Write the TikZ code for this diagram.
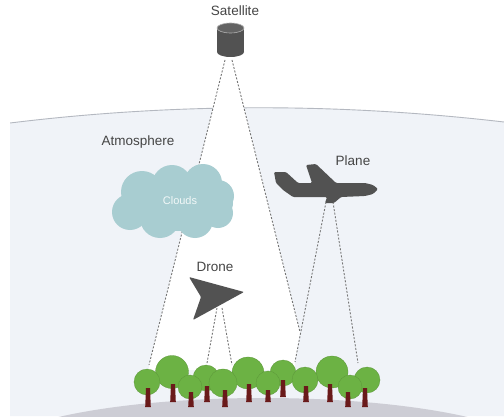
\documentclass[tikz,border=0pt]{standalone}
\usepackage{fontspec}
\newfontfamily\labfont{Liberation Sans}
\begin{document}
\definecolor{atmo}{HTML}{F0F3F8}
\definecolor{atmoedge}{HTML}{B4B8C0}
\definecolor{cloudc}{HTML}{A8CDD1}
\definecolor{groundc}{HTML}{CDCDD5}
\definecolor{leaf}{HTML}{6CB244}
\definecolor{trunkc}{HTML}{6A1A1A}
\definecolor{craft}{HTML}{525252}
\definecolor{labc}{HTML}{454545}
\definecolor{beamc}{HTML}{777777}
\begin{tikzpicture}[x=1pt,y=-1pt,
  lab/.style={font=\labfont\fontsize{13.5}{15}\selectfont,text=labc,inner sep=0pt},
  beam/.style={draw=beamc,line width=0.9pt,dash pattern=on 2pt off 1.6pt},
  foliage/.style={fill=leaf,draw=leaf!85!black,line width=0.3pt},
  trunkbar/.style={fill=trunkc},
  craftshape/.style={fill=craft,draw=none}]
\useasboundingbox (0,0) rectangle (504,420);
\fill[white] (0,0) rectangle (504,420);

% sky dome of the atmosphere
\begin{scope}
\clip (10,0) rectangle (504,416);
\fill[atmo] (10,123) .. controls (173,103) and (338,102.7) .. (504,122)
  -- (504,416) -- (10,416) -- cycle;
\draw[atmoedge,line width=0.9pt] (10,123) .. controls (173,103) and (338,102.7) .. (504,122);
% ground
\fill[groundc] (263,458) ellipse [x radius=280, y radius=60];
\end{scope}

% beam end points
\coordinate (satL) at (225,60);
\coordinate (satR) at (232,60);
\coordinate (satLg) at (149,365);
\coordinate (meet) at (300,332);
\coordinate (plL) at (326,202);
\coordinate (plR) at (333,202);
\coordinate (plLg) at (295,362);
\coordinate (plRg) at (358,363);
\coordinate (drL) at (217,308);
\coordinate (drR) at (222,308);
\coordinate (drLg) at (207,363);
\coordinate (drRg) at (232,365);

% clear cone under the satellite
\fill[white] (satL) -- (satR) -- (meet) -- (plLg) -- (295,370) -- (149,370) -- (satLg) -- cycle;

% satellite beams
\draw[beam] (satL) -- (satLg);
\draw[beam] (satR) -- (meet);

% clouds
\begin{scope}[fill=cloudc]
\fill (178,203) ellipse [x radius=55, y radius=28];
\fill (142,192) circle (21);
\fill (172,185) circle (20);
\fill (203,183) circle (19);
\fill (218,196) circle (16);
\fill (130,212) circle (18);
\fill (160,218) circle (20);
\fill (195,220) circle (18);
\fill (218,213) circle (15);
\end{scope}
\node[lab,text=white!85!cloudc,font=\labfont\fontsize{11}{12}\selectfont] (clouds) at (180,201) {Clouds};

% plane beams
\draw[beam] (plL) -- (plLg);
\draw[beam] (plR) -- (plRg);
% drone beams
\draw[beam] (drL) -- (drLg);
\draw[beam] (drR) -- (drRg);

% satellite body
\fill[craft] (217,28) rectangle (244,52);
\fill[craft] (230.5,52) ellipse [x radius=13.5, y radius=5];
\fill[craft!90!white,draw=craft!45!white,line width=0.6pt] (230.5,28) ellipse [x radius=13.5, y radius=5];

% plane silhouette
\fill[craftshape,rounded corners=1.2pt]
  (274,172) -- (286,172) -- (298,183) -- (312,183) -- (306,165) -- (316,164)
  -- (336,183) -- (365,183) -- (373,185) -- (378,189) -- (373,194) -- (365,196)
  -- (341,197) -- (334,203) -- (325,203) -- (327,197) -- (293,197) -- (283,190)
  -- (276,183) -- cycle;

% drone silhouette
\fill[craftshape,rounded corners=1pt]
  (189,277) -- (244,292) -- (193,320) -- (201,297) -- cycle;

% trees: foliage first, trunks on top
\foreach \x/\y/\r in {172/372/16.5, 248/373/16, 332/372/16, 283/373/13,
  206/378/13, 147/382/13, 305/380/13, 367/380/13, 223/383/14,
  190/387/12, 268/383/12, 350/387/12}
  \filldraw[foliage] (\x,\y) circle (\r);
\foreach \x/\t/\b in {148/388/407, 173/384/402, 191/392/407, 207/386/402,
  225/390/407, 249/384/402, 268/390/402, 283/380/397, 306/386/402,
  330/384/402, 348/392/407, 365/388/407}
  \fill[trunkbar] (\x-2,\t) -- (\x+2,\t) -- (\x+2.8,\b) -- (\x-2.8,\b) -- cycle;

% labels
\node[lab] (satlabel) at (235,11) {Satellite};
\node[lab] (atmolabel) at (138,142) {Atmosphere};
\node[lab] (planelabel) at (353,161) {Plane};
\node[lab] (dronelabel) at (215,267) {Drone};
\end{tikzpicture}
\end{document}
